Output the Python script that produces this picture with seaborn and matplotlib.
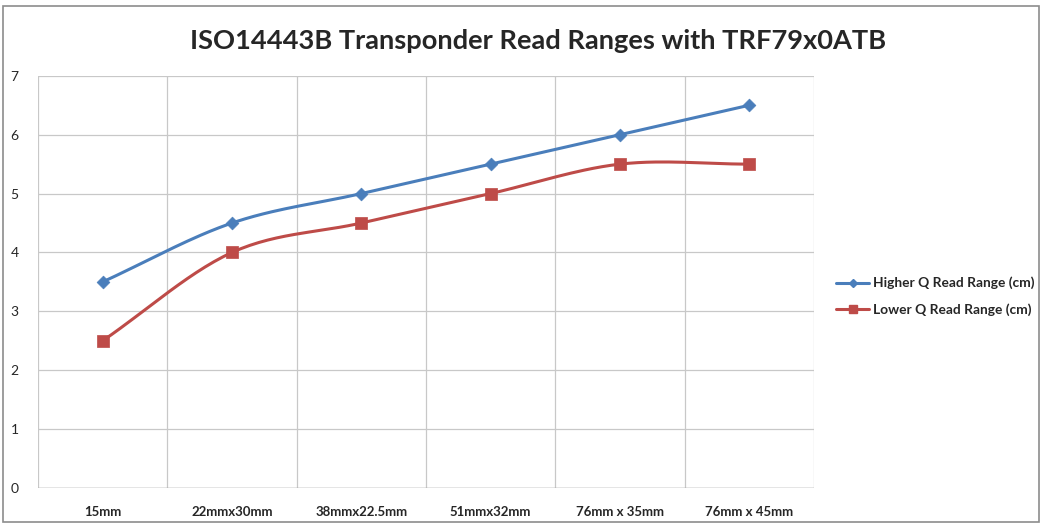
"""ISO14443B Transponder-Lesereichweiten mit TRF79x0ATB (Excel-Stil nachgebaut)."""
import numpy as np
import matplotlib
matplotlib.use("Agg")
import matplotlib.pyplot as plt
from matplotlib.patches import Rectangle
import seaborn as sns

# Daten
categories = ["15mm", "22mmx30mm", "38mmx22.5mm", "51mmx32mm", "76mm x 35mm", "76mm x 45mm"]
higher_q = [3.5, 4.5, 5.0, 5.5, 6.0, 6.5]
lower_q = [2.5, 4.0, 4.5, 5.0, 5.5, 5.5]
series_names = ["Higher Q Read Range (cm)", "Lower Q Read Range (cm)"]

BLUE = "#4a7ebb"
RED = "#be4b48"


def smooth(x, y, n=30):
    """Catmull-Rom Kurve durch die Punkte, ähnlich der Excel-Glättung."""
    x = np.asarray(x, float)
    y = np.asarray(y, float)
    px = np.concatenate([[2 * x[0] - x[1]], x, [2 * x[-1] - x[-2]]])
    py = np.concatenate([[2 * y[0] - y[1]], y, [2 * y[-1] - y[-2]]])
    xs, ys = [], []
    t = np.linspace(0, 1, n)
    for i in range(1, len(px) - 2):
        for p, out in ((px, xs), (py, ys)):
            p0, p1, p2, p3 = p[i - 1], p[i], p[i + 1], p[i + 2]
            out.extend(0.5 * ((2 * p1) + (-p0 + p2) * t
                              + (2 * p0 - 5 * p1 + 4 * p2 - p3) * t ** 2
                              + (-p0 + 3 * p1 - 3 * p2 + p3) * t ** 3))
    return np.array(xs), np.array(ys)


sns.set_theme(style="white")
plt.rcParams["font.family"] = ["Lato", "DejaVu Sans"]

fig = plt.figure(figsize=(10.42, 5.23), dpi=100)
ax = fig.add_axes([0.0365, 0.067, 0.7445, 0.788])

x = np.arange(len(categories))
for vals, name, color, marker, ms in ((higher_q, series_names[0], BLUE, "D", 6.5),
                                      (lower_q, series_names[1], RED, "s", 8.5)):
    sx, sy = smooth(x, vals)
    ax.plot(sx, sy, color=color, lw=2.2, zorder=3)
    sns.scatterplot(x=x, y=vals, ax=ax, color=color, marker=marker, s=ms ** 2,
                    edgecolor=color, linewidth=0.5, zorder=4)
    ax.plot([], [], color=color, lw=2.2, marker=marker, ms=ms * 0.7, label=name)

ax.set_xlim(-0.5, len(categories) - 0.5)
ax.set_ylim(0, 7)
ax.set_yticks(range(0, 8))
ax.set_xticks(x)
ax.set_xticklabels(categories, fontweight="bold", fontsize=9.5)
for lbl in ax.get_yticklabels():
    lbl.set_fontsize(10)
ax.tick_params(axis="x", length=0, pad=13)
ax.tick_params(axis="y", length=0, pad=14)

# Gitter: horizontale Linien pro Einheit, vertikale an Kategoriegrenzen
for yv in range(0, 8):
    ax.axhline(yv, color="#c8c8c8", lw=0.9, zorder=1)
for xv in np.arange(-0.5, len(categories), 1.0):
    ax.axvline(xv, color="#c8c8c8", lw=0.9, zorder=1)
for side in ax.spines.values():
    side.set_visible(False)
ax.axhline(0, color="#999999", lw=1.0, zorder=2)

ax.set_title("ISO14443B Transponder Read Ranges with TRF79x0ATB",
             fontsize=19.6, fontweight="bold", x=0.645, y=1.045)

ax.legend(loc="center left", bbox_to_anchor=(1.013, 0.465), frameon=False,
          prop={"weight": "bold", "size": 9.9}, handlelength=2.4,
          labelspacing=1.0, handletextpad=0.25)

# Rahmen um das Diagramm
fig.patches.append(Rectangle((0.003, 0.002), 0.994, 0.987, transform=fig.transFigure,
                             fill=False, edgecolor="#8c8c8c", lw=1.2))

fig.savefig("out.png", dpi=100)
